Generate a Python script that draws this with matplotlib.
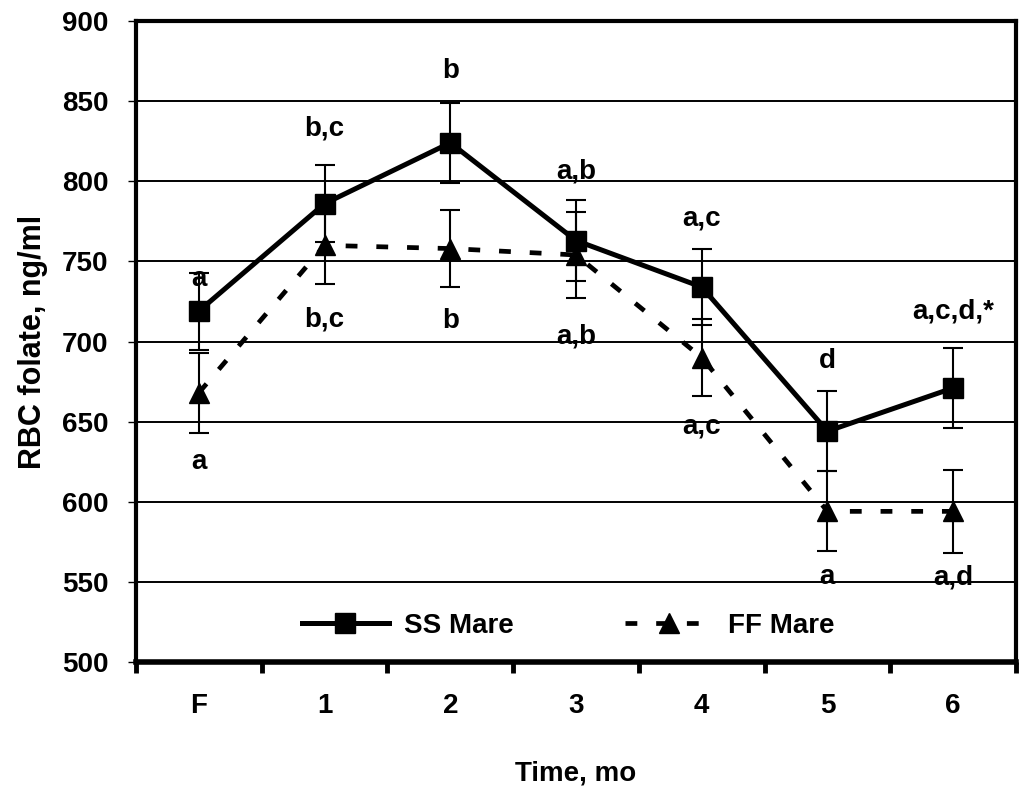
import matplotlib
matplotlib.use("Agg")
import matplotlib.pyplot as plt
from matplotlib.ticker import FixedLocator, NullFormatter

plt.rcParams['font.family'] = ['Liberation Sans', 'DejaVu Sans']
plt.rcParams['font.weight'] = 'bold'

categories = ["F", "1", "2", "3", "4", "5", "6"]
ss_mean = [719, 786, 824, 763, 734, 644, 671]
ss_se = [24, 24, 25, 25, 24, 25, 25]
ff_mean = [668, 760, 758, 754, 690, 594, 594]
ff_se = [25, 24, 24, 27, 24, 25, 26]

ss_labels = ["a", "b,c", "b", "a,b", "a,c", "d", "a,c,d,*"]
ss_label_y = [739, 833, 869, 806, 777, 688, 719]
ff_labels = ["a", "b,c", "b", "a,b", "a,c", "a", "a,d"]
ff_label_y = [625, 714, 713, 703, 647, 553, 553]

yticks = [500, 550, 600, 650, 700, 750, 800, 850, 900]

fig = plt.figure(figsize=(10.24, 7.97), dpi=100)
ax = fig.add_axes([136/1024, 1 - 662/797, 880/1024, 641/797])

x = list(range(len(categories)))

ax.errorbar(x, ss_mean, yerr=ss_se, fmt='none', ecolor='black',
            elinewidth=1.5, capsize=7, capthick=1.5, zorder=3)
ax.errorbar(x, ff_mean, yerr=ff_se, fmt='none', ecolor='black',
            elinewidth=1.5, capsize=7, capthick=1.5, zorder=3)

ax.plot(x, ss_mean, color='black', linewidth=3.6, marker='s',
        markersize=14, markerfacecolor='black', markeredgecolor='black',
        label='SS Mare', zorder=4)
ax.plot(x, ff_mean, color='black', linewidth=3.4, marker='^',
        markersize=15, markerfacecolor='black', markeredgecolor='black',
        linestyle=(0, (2.5, 4.0)), dash_capstyle='butt',
        label='FF Mare', zorder=4)

for xi, lab, yy in zip(x, ss_labels, ss_label_y):
    ax.text(xi, yy, lab, ha='center', va='center', fontsize=20, fontweight='bold')
for xi, lab, yy in zip(x, ff_labels, ff_label_y):
    ax.text(xi, yy, lab, ha='center', va='center', fontsize=20, fontweight='bold')

ax.set_xlim(-0.5, len(categories) - 0.5)
ax.set_ylim(500, 900)

ax.set_yticks(yticks)
ax.set_yticklabels([str(v) for v in yticks])
ax.yaxis.grid(True, color='black', linewidth=1.4)
ax.set_axisbelow(True)

ax.set_xticks(x)
ax.set_xticklabels(categories)
ax.xaxis.set_minor_locator(FixedLocator([i - 0.5 for i in range(len(categories) + 1)]))
ax.xaxis.set_minor_formatter(NullFormatter())
ax.tick_params(axis='x', which='major', length=0, pad=22, labelsize=20)
ax.tick_params(axis='x', which='minor', length=8, width=3.5, direction='out')
ax.tick_params(axis='y', which='major', length=6, width=1.0, direction='out',
               pad=14, labelsize=20)

for side in ['top', 'left', 'right']:
    ax.spines[side].set_linewidth(3.0)
ax.spines['bottom'].set_linewidth(4.0)

ax.set_xlabel('Time, mo', fontsize=20, fontweight='bold', labelpad=30)
ax.set_ylabel('RBC folate, ng/ml', fontsize=22, fontweight='bold', labelpad=10)

leg = ax.legend(loc='center', bbox_to_anchor=(0.491, 0.056), ncol=2,
                frameon=False, fontsize=20, handlelength=3.15,
                handletextpad=0.55, columnspacing=4.0, borderpad=0.0)

fig.savefig('out.png', dpi=100)
